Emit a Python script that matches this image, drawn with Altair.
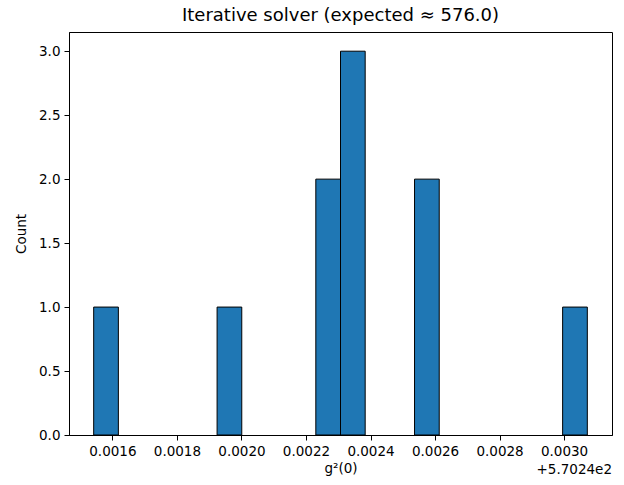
import altair as alt
import pandas as pd

# Histogram of g²(0) values (x shown relative to offset 570.24)
OFFSET_TEXT = "+5.7024e2"
bin_lo = 0.001542        # left edge of first bin (relative to offset)
bin_width = 0.0000765    # width of each of the 20 bins
counts = [1, 0, 0, 0, 0, 1, 0, 0, 0, 2, 3, 0, 0, 2, 0, 0, 0, 0, 0, 1]
x_ticks = [0.0016, 0.0018, 0.0020, 0.0022, 0.0024, 0.0026, 0.0028, 0.0030]
y_ticks = [0.0, 0.5, 1.0, 1.5, 2.0, 2.5, 3.0]
title_text = "Iterative solver (expected ≈ 576.0)"

rows = []
for i, c in enumerate(counts):
    if c > 0:
        rows.append({"start": bin_lo + i * bin_width,
                     "end": bin_lo + (i + 1) * bin_width,
                     "count": c})
df = pd.DataFrame(rows)

n = len(counts)
x_lo = bin_lo - 0.05 * n * bin_width
x_hi = bin_lo + 1.05 * n * bin_width

W, H = 543, 403
FONT = "DejaVu Sans"

bars = alt.Chart(df).mark_rect(
    fill="#1f77b4", stroke="black", strokeWidth=1
).encode(
    x=alt.X("start:Q",
            scale=alt.Scale(domain=[x_lo, x_hi], nice=False, zero=False),
            axis=alt.Axis(values=x_ticks, format=".4f", title="g²(0)",
                          grid=False, tickSize=5, labelPadding=4,
                          titlePadding=4)),
    x2="end:Q",
    y=alt.Y("count:Q",
            scale=alt.Scale(domain=[0, 3.15], nice=False),
            axis=alt.Axis(values=y_ticks, format=".1f", title="Count",
                          grid=False, tickSize=5, labelPadding=4,
                          titlePadding=10)),
    y2=alt.datum(0),
)

offset = alt.Chart(pd.DataFrame({"t": [OFFSET_TEXT]})).mark_text(
    align="right", baseline="top", font=FONT, fontSize=13.5, color="black"
).encode(
    text="t:N",
    x=alt.value(W),
    y=alt.value(H + 28),
)

chart = alt.layer(bars, offset).properties(
    width=W, height=H,
    title=alt.TitleParams(title_text, font=FONT, fontSize=18,
                          fontWeight="normal", color="black",
                          anchor="middle", offset=7),
    autosize=alt.AutoSizeParams(type="none"),
    padding={"left": 69, "top": 32, "right": 12, "bottom": 50},
).configure_view(
    stroke="black", strokeWidth=1
).configure_axis(
    labelFont=FONT, titleFont=FONT, labelFontSize=13.5, titleFontSize=13.5,
    labelColor="black", titleColor="black", titleFontWeight="normal",
    domainColor="black", tickColor="black", domain=True
)

chart.save("out.html", embed_options={"renderer": "svg", "actions": False})
